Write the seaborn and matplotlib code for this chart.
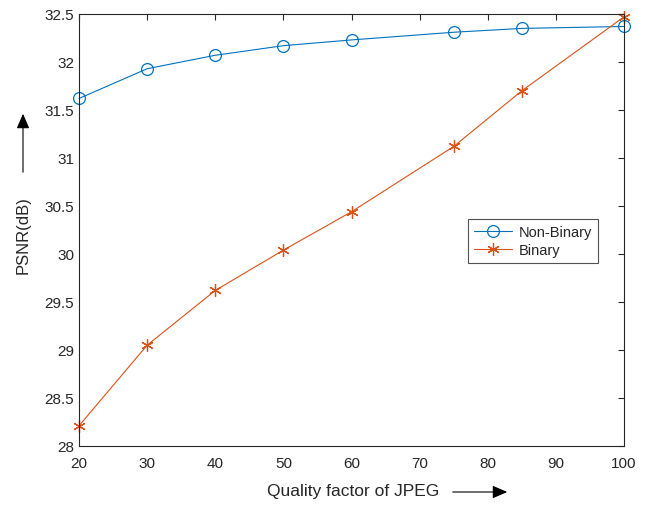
import matplotlib
matplotlib.use("Agg")
import matplotlib.pyplot as plt
from matplotlib.ticker import FuncFormatter
import seaborn as sns
import pandas as pd

quality = [20, 30, 40, 50, 60, 75, 85, 100]
non_binary = [31.62, 31.93, 32.07, 32.17, 32.23, 32.31, 32.35, 32.37]
binary = [28.21, 29.05, 29.62, 30.04, 30.44, 31.12, 31.70, 32.47]
series_names = ["Non-Binary", "Binary"]
x_ticks = [20, 30, 40, 50, 60, 70, 80, 90, 100]
y_ticks = [28, 28.5, 29, 29.5, 30, 30.5, 31, 31.5, 32, 32.5]

sns.set_theme(style="white")
plt.rcParams["font.family"] = ["Liberation Sans", "DejaVu Sans"]

df = pd.DataFrame({
    "Quality": quality * 2,
    "PSNR": non_binary + binary,
    "Series": [series_names[0]] * len(quality) + [series_names[1]] * len(quality),
})

fig = plt.figure(figsize=(6.45, 5.06), dpi=100)
ax = fig.add_axes([79 / 645, 59 / 506, 545 / 645, 432 / 506])

colors = {"Non-Binary": "#0072BD", "Binary": "#D95319"}
markers = {"Non-Binary": "o", "Binary": (6, 2, 0)}
sizes = {"Non-Binary": 8.5, "Binary": 9}
for name in series_names:
    sub = df[df["Series"] == name]
    sns.lineplot(data=sub, x="Quality", y="PSNR", ax=ax, color=colors[name],
                 marker=markers[name], markersize=sizes[name],
                 markeredgecolor=colors[name], markerfacecolor="none",
                 markeredgewidth=0.9, linewidth=0.8, label=name, clip_on=False)

ax.set_xlim(20, 100)
ax.set_ylim(28, 32.5)
ax.set_xticks(x_ticks)
ax.set_yticks(y_ticks)
ax.yaxis.set_major_formatter(FuncFormatter(lambda v, p: "%g" % v))
ax.tick_params(direction="in", top=True, right=True, length=4, width=0.8,
               labelsize=11, colors="#262626", labelcolor="#262626")
ax.tick_params(axis="x", pad=7)
for s in ax.spines.values():
    s.set_visible(True)
    s.set_color("#262626")
    s.set_linewidth(0.8)
ax.set_xlabel("")
ax.set_ylabel("")

# axis labels with arrows
fig.text(353 / 645, 1 - 492 / 506, "Quality factor of JPEG", ha="center", va="center",
         fontsize=12.5, color="#262626")
fig.add_artist(matplotlib.patches.FancyArrowPatch(
    (450 / 645, 1 - 493 / 506), (510 / 645, 1 - 493 / 506),
    transform=fig.transFigure, arrowstyle="-|>,head_length=6,head_width=2.6",
    color="black", linewidth=0.8, mutation_scale=1.5))
fig.text(23 / 645, 1 - 235 / 506, "PSNR(dB)", ha="center", va="center",
         rotation=90, fontsize=12, color="#262626")
fig.add_artist(matplotlib.patches.FancyArrowPatch(
    (23 / 645, 1 - 176 / 506), (23 / 645, 1 - 112 / 506),
    transform=fig.transFigure, arrowstyle="-|>,head_length=6,head_width=2.6",
    color="black", linewidth=0.8, mutation_scale=1.5))

leg = ax.legend(loc="upper left", bbox_to_anchor=(0.714, 0.525), borderaxespad=0,
                frameon=True, fancybox=False, edgecolor="#262626", fontsize=10.5,
                handlelength=2.6, borderpad=0.4, labelspacing=0.3, handletextpad=0.5)
leg.get_frame().set_linewidth(0.8)

fig.savefig("out.png", dpi=100)
